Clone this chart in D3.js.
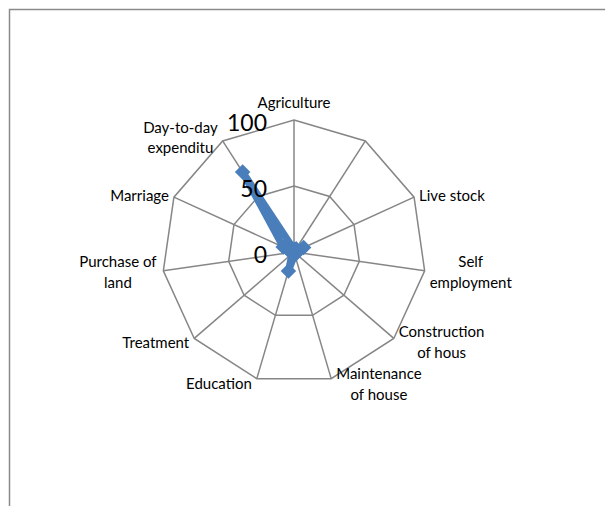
<!DOCTYPE html>
<html>
<head>
<meta charset="utf-8">
<script src="https://cdn.jsdelivr.net/npm/d3@7"></script>
<style>
  body { margin: 0; background: #fff; }
  svg { display: block; font-family: Lato, "Open Sans", sans-serif; }
</style>
</head>
<body>
<svg id="chart"></svg>
<script>
// data
const categories = ["Agriculture", "", "Live stock", "Self employment", "Construction of hous",
  "Maintenance of house", "Education", "Treatment", "Purchase of land", "Marriage", "Day-to-day expenditu"];
const values = [2, 3, 8, 2, 2, 2, 15, 2, 2, 9, 72];
const ticks = [0, 50, 100];

const width = 605;
const height = 506;
const cx = 294;
const cy = 252;
const radius = 132;

const svg = d3.select('#chart')
    .attr('width', width)
    .attr('height', height);

// chart area border (runs off the right and bottom edge)
svg.append('rect')
    .attr('x', 9.5)
    .attr('y', 9.5)
    .attr('width', 700)
    .attr('height', 600)
    .attr('fill', 'none')
    .attr('stroke', '#8a8a8a')
    .attr('stroke-width', 1.5);

const g = svg.append('g')
    .attr('transform', `translate(${cx}, ${cy})`);

const r = d3.scaleLinear().domain([0, 100]).range([0, radius]);
const angle = d3.scalePoint()
    .domain(d3.range(categories.length))
    .range([0, 2 * Math.PI * (categories.length - 1) / categories.length]);

const px = (i, v) => r(v) * Math.sin(angle(i));
const py = (i, v) => -r(v) * Math.cos(angle(i));

// grid rings
ticks.filter(t => t > 0).forEach(t => {
  g.append('path')
      .attr('d', d3.line()(categories.map((c, i) => [px(i, t), py(i, t)])) + 'Z')
      .attr('fill', 'none')
      .attr('stroke', '#868686')
      .attr('stroke-width', 1.5);
});

// spokes
g.selectAll('.spoke')
    .data(categories)
    .enter()
    .append('line')
    .attr('x1', 0)
    .attr('y1', 0)
    .attr('x2', (d, i) => px(i, 100))
    .attr('y2', (d, i) => py(i, 100))
    .attr('stroke', '#868686')
    .attr('stroke-width', 1.5);

// series
const pts = values.map((v, i) => [px(i, v), py(i, v)]);
g.append('path')
    .attr('d', d3.line()(pts) + 'Z')
    .attr('fill', 'none')
    .attr('stroke', '#4a7ebb')
    .attr('stroke-width', 7)
    .attr('stroke-linejoin', 'round');

g.selectAll('.marker')
    .data(pts)
    .enter()
    .append('path')
    .attr('d', d3.symbol().type(d3.symbolSquare).size(120))
    .attr('transform', d => `translate(${d[0]}, ${d[1]}) rotate(45)`)
    .attr('fill', '#4a7ebb');

// category labels, wrapped at ~11 characters
function wrap(label) {
  const lines = [];
  label.split(' ').forEach(w => {
    const last = lines[lines.length - 1];
    if (last && (last + ' ' + w).length <= 11) lines[lines.length - 1] = last + ' ' + w;
    else lines.push(w);
  });
  return lines;
}

const lineH = 20.5;
categories.forEach((c, i) => {
  if (!c) return;
  const a = angle(i);
  const vx = px(i, 100);
  const vy = py(i, 100);
  const lines = wrap(c);
  const t = g.append('text')
      .attr('font-size', 15)
      .attr('fill', '#000');
  lines.forEach(l => t.append('tspan').text(l));
  const tspans = t.selectAll('tspan');
  const widths = tspans.nodes().map(n => n.getComputedTextLength());
  const boxW = d3.max(widths);
  let boxCx, boxCy;
  const s = Math.sin(a);
  if (Math.abs(s) < 0.01) {
    boxCx = vx;
    boxCy = vy - 8 - lines.length * lineH / 2;
  } else {
    boxCx = s > 0 ? vx + 5 + boxW / 2 : vx - 5 - boxW / 2;
    boxCy = vy - 5 * Math.cos(a);
  }
  tspans
      .attr('x', boxCx)
      .attr('text-anchor', 'middle')
      .attr('y', (d, k) => boxCy + (k - (lines.length - 1) / 2) * lineH)
      .attr('dominant-baseline', 'central');
});

// radial axis labels
g.selectAll('.tick')
    .data(ticks)
    .enter()
    .append('text')
    .attr('x', -27)
    .attr('y', d => -r(d) + 1.5)
    .attr('text-anchor', 'end')
    .attr('dominant-baseline', 'central')
    .attr('font-size', 23)
    .attr('fill', '#000')
    .text(d => d);
</script>
</body>
</html>
